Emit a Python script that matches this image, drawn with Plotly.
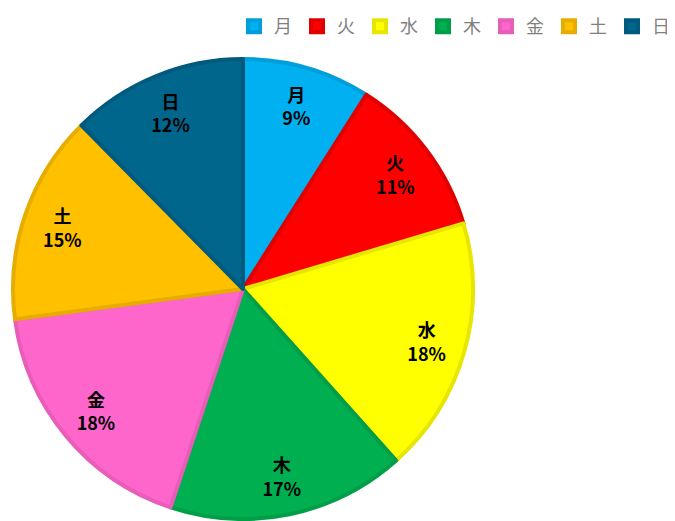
import plotly.graph_objects as go

labels = ["月", "火", "水", "木", "金", "土", "日"]
values = [9.0, 11.4, 18.0, 16.7, 17.8, 14.7, 12.4]
fill_colors = ["#00B0F0", "#FF0000", "#FFFF00", "#00B050", "#FF66CC", "#FFC000", "#00668C"]
line_colors = ["#009FDB", "#E00000", "#E6E600", "#009E48", "#E85DB8", "#E6AD00", "#005A7E"]

W, H = 675, 521
T = 45  # top margin (room for legend)
PH = H - T
cx, cy, r = 235.0, 281.0, 230.0

dom = dict(
    x=[(cx - r) / W, (cx + r) / W],
    y=[(H - cy - r) / PH, (H - cy + r) / PH],
)

fig = go.Figure()
fig.add_trace(go.Pie(
    labels=labels,
    values=values,
    sort=False,
    direction="clockwise",
    rotation=0,
    marker=dict(colors=fill_colors, line=dict(color=line_colors, width=4)),
    textinfo="none",
    hoverinfo="label+percent",
    domain=dom,
))
# text layer: transparent ring so labels sit near the outer part of each slice
fig.add_trace(go.Pie(
    labels=labels,
    values=values,
    sort=False,
    direction="clockwise",
    rotation=0,
    hole=0.66,
    marker=dict(colors=["rgba(0,0,0,0)"] * len(labels), line=dict(width=0)),
    texttemplate="%{label}<br>%{percent:.0%}",
    textposition="inside",
    insidetextorientation="horizontal",
    textfont=dict(family="Noto Sans CJK JP", size=18, color="black", weight="bold"),
    hoverinfo="skip",
    showlegend=False,
    domain=dom,
))

fig.update_layout(
    width=W, height=H,
    margin=dict(l=0, r=0, t=T, b=0, autoexpand=False),
    paper_bgcolor="white",
    showlegend=True,
    legend=dict(
        orientation="h",
        x=226 / W, xanchor="left",
        y=1 + T / PH, yanchor="top",
        font=dict(family="Noto Sans CJK JP", size=18, color="#7F7F7F"),
        itemwidth=30,
        tracegroupgap=0,
    ),
)

fig.write_html("out.html")
